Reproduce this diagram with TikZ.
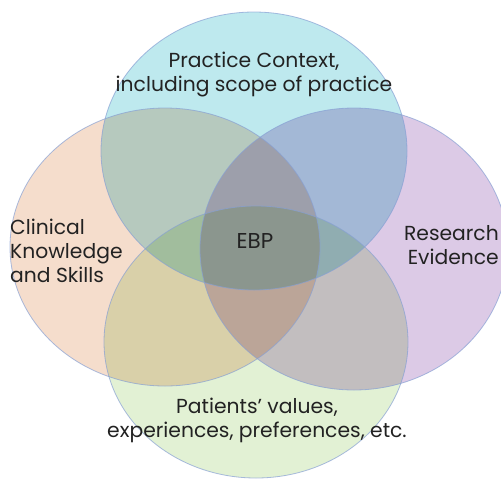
\documentclass[tikz,border=0pt]{standalone}
\usepackage{fontspec}
\setmainfont{Poppins}
\definecolor{ctop}{RGB}{190,233,238}
\definecolor{cleft}{RGB}{245,221,204}
\definecolor{cright}{RGB}{220,202,230}
\definecolor{cbottom}{RGB}{226,241,212}
\definecolor{cline}{RGB}{135,160,212}
\definecolor{ctext}{RGB}{34,34,34}
\begin{document}
\begin{tikzpicture}[x=1pt,y=-1pt,
  lbl/.style={text=ctext,font=\fontsize{20.3}{24}\selectfont,inner sep=0pt},
  rim/.style={draw=cline,line width=0.8pt,draw opacity=0.7}]
\useasboundingbox (0,0) rectangle (501,480);
\clip (0,0) rectangle (501,480);
\fill[white] (0,0) rectangle (501,480);
\begin{scope}[blend group=multiply]
  \fill[ctop] (254,151) ellipse [x radius=153, y radius=139];
  \fill[cleft] (165,247) ellipse [x radius=155, y radius=139];
  \fill[cright] (354,249) ellipse [x radius=154, y radius=141];
  \fill[cbottom] (256,342) ellipse [x radius=152, y radius=136];
\end{scope}
\draw[rim] (254,151) ellipse [x radius=153, y radius=139];
\draw[rim] (165,247) ellipse [x radius=155, y radius=139];
\draw[rim] (354,249) ellipse [x radius=154, y radius=141];
\draw[rim] (256,342) ellipse [x radius=152, y radius=136];
\node[lbl,align=center] (ctx) at (254,75) {Practice Context,\\including scope of practice};
\node[lbl,align=left,anchor=west] (clin) at (10,251) {Clinical\\Knowledge\\and Skills};
\node[lbl,align=right,anchor=east] (res) at (499,245) {Research\\Evidence};
\node[lbl,font=\fontsize{21.5}{24}\selectfont] (ebp) at (255,241) {EBP};
\node[lbl,align=center] (pat) at (257,420) {Patients’ values,\\experiences, preferences, etc.};
\end{tikzpicture}
\end{document}
